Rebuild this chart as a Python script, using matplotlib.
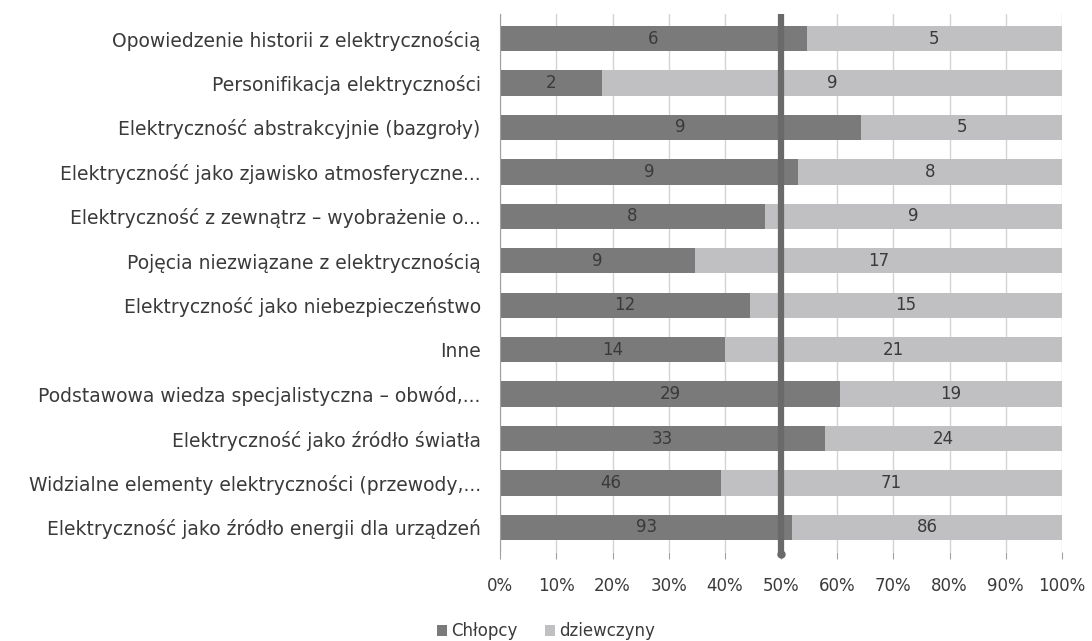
import matplotlib.pyplot as plt
import numpy as np

categories = [
    "Opowiedzenie historii z elektrycznością",
    "Personifikacja elektryczności",
    "Elektryczność abstrakcyjnie (bazgroły)",
    "Elektryczność jako zjawisko atmosferyczne...",
    "Elektryczność z zewnątrz – wyobrażenie o...",
    "Pojęcia niezwiązane z elektrycznością",
    "Elektryczność jako niebezpieczeństwo",
    "Inne",
    "Podstawowa wiedza specjalistyczna – obwód,...",
    "Elektryczność jako źródło światła",
    "Widzialne elementy elektryczności (przewody,...",
    "Elektryczność jako źródło energii dla urządzeń",
]
chlopcy = [6, 2, 9, 9, 8, 9, 12, 14, 29, 33, 46, 93]
dziewczyny = [5, 9, 5, 8, 9, 17, 15, 21, 19, 24, 71, 86]
x_ticks = [0, 10, 20, 30, 40, 50, 60, 70, 80, 90, 100]

dark = "#7a7a7a"
light = "#c0c0c2"
text_col = "#3a3a3a"

plt.rcParams['font.family'] = ['DejaVu Sans']

b = np.array(chlopcy, dtype=float)
g = np.array(dziewczyny, dtype=float)
tot = b + g
pb = b / tot * 100
pg = g / tot * 100
y = np.arange(len(categories))

fig = plt.figure(figsize=(10.92, 6.41), dpi=100)
ax = fig.add_axes([0.458, 0.139, 0.5145, 0.839])

ax.grid(True, axis='x', color='#d4d4d4', linewidth=1)
ax.set_axisbelow(True)
bars1 = ax.barh(y, pb, height=0.57, color=dark, label='Chłopcy')
bars2 = ax.barh(y, pg, left=pb, height=0.57, color=light, label='dziewczyny')

for i in range(len(y)):
    ax.text(pb[i] / 2, y[i], str(chlopcy[i]), ha='center', va='center',
            fontsize=12, color=text_col)
    ax.text(pb[i] + pg[i] / 2, y[i], str(dziewczyny[i]), ha='center', va='center',
            fontsize=12, color=text_col)

ax.plot([50, 50], [-0.55, len(y) - 0.35], color='#6a6a6a', linewidth=4.5,
        solid_capstyle='butt', zorder=5, clip_on=False)
ax.plot([50], [len(y) - 0.4], marker='o', markersize=5, color='#6a6a6a',
        zorder=5, clip_on=False)

ax.set_xlim(0, 100)
ax.set_ylim(len(y) - 0.45, -0.55)
ax.set_yticks(y)
ax.set_yticklabels(categories, fontsize=13.5, color=text_col)
ax.set_xticks(x_ticks)
ax.set_xticklabels([f"{t}%" for t in x_ticks], fontsize=12, color=text_col)
ax.tick_params(axis='y', length=0, pad=14)
ax.tick_params(axis='x', length=5, color='#a0a0a0', pad=13)

for s in ['top', 'right', 'bottom']:
    ax.spines[s].set_visible(False)
ax.spines['left'].set_color('#a0a0a0')

fig.legend(handles=[bars1, bars2], loc='center', bbox_to_anchor=(0.5, 0.015),
           ncol=2, frameon=False, fontsize=12, handlelength=0.6,
           handleheight=0.6, handletextpad=0.3, columnspacing=1.6,
           labelcolor=text_col)

fig.savefig("out.png", dpi=100)
